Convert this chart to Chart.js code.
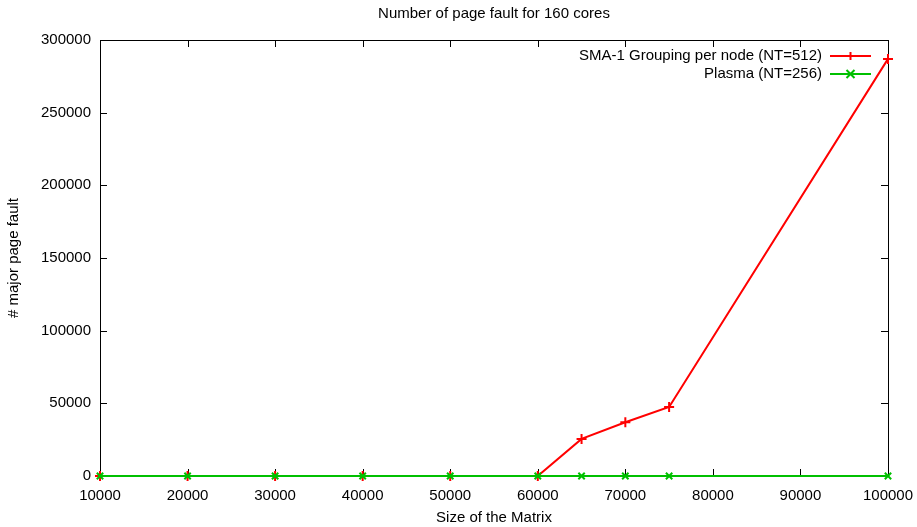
<!DOCTYPE html>
<html>
<head>
<meta charset="utf-8">
<script src="https://cdn.jsdelivr.net/npm/chart.js@4/dist/chart.umd.min.js"></script>
<style>
  body { margin: 0; background: #fff; }
  #wrap { width: 917px; height: 527px; }
</style>
</head>
<body>
<div id="wrap"><canvas id="faultChart"></canvas></div>
<script>
const matrixSizes = [10000, 20000, 30000, 40000, 50000, 60000, 65000, 70000, 75000, 100000];
const smaFaults = [0, 0, 0, 0, 0, 0, 25500, 37000, 47500, 287000];
const plasmaFaults = [0, 0, 0, 0, 0, 0, 0, 0, 0, 0];
const seriesNames = ['SMA-1 Grouping per node (NT=512)', 'Plasma (NT=256)'];
const seriesColors = ['#ff0000', '#00c000'];
const xTicks = [10000, 20000, 30000, 40000, 50000, 60000, 70000, 80000, 90000, 100000];
const yTicks = [0, 50000, 100000, 150000, 200000, 250000, 300000];
const chartTitle = 'Number of page fault for 160 cores';

const FONT = 'Liberation Sans, Arial, sans-serif';
const FS = 15;

// gnuplot style frame with inward mirrored ticks
const framePlugin = {
    id: 'frame',
    beforeDatasetsDraw(chart) {
        const ctx = chart.ctx;
        const a = chart.chartArea;
        const x = chart.scales.x, y = chart.scales.y;
        const len = 7;
        ctx.save();
        ctx.strokeStyle = '#000';
        ctx.lineWidth = 1;
        ctx.strokeRect(a.left + 0.5, a.top + 0.5, a.right - a.left, a.bottom - a.top);
        ctx.beginPath();
        xTicks.forEach(v => {
            const px = Math.round(x.getPixelForValue(v)) + 0.5;
            ctx.moveTo(px, a.bottom); ctx.lineTo(px, a.bottom - len);
            ctx.moveTo(px, a.top); ctx.lineTo(px, a.top + len);
        });
        yTicks.forEach(v => {
            const py = Math.round(y.getPixelForValue(v)) + 0.5;
            ctx.moveTo(a.left, py); ctx.lineTo(a.left + len, py);
            ctx.moveTo(a.right, py); ctx.lineTo(a.right - len, py);
        });
        ctx.stroke();
        ctx.restore();
    },
    afterDraw(chart) {
        const ctx = chart.ctx;
        const a = chart.chartArea;
        ctx.save();
        ctx.font = FS + 'px ' + FONT;
        ctx.fillStyle = '#000';
        ctx.textAlign = 'center';
        ctx.textBaseline = 'middle';
        ctx.fillText(chartTitle, (a.left + a.right) / 2, 14);

        // legend: right-aligned text followed by a line sample
        ctx.textAlign = 'right';
        seriesNames.forEach((name, i) => {
            const ly = 56 + i * 18;
            ctx.fillStyle = '#000';
            ctx.fillText(name, 822, ly);
            ctx.strokeStyle = seriesColors[i];
            ctx.lineWidth = 2;
            ctx.beginPath();
            ctx.moveTo(830, ly); ctx.lineTo(871, ly);
            ctx.stroke();
            const mx = 850.5, r = 4;
            ctx.beginPath();
            if (i === 0) {
                ctx.moveTo(mx - r, ly); ctx.lineTo(mx + r, ly);
                ctx.moveTo(mx, ly - r); ctx.lineTo(mx, ly + r);
            } else {
                ctx.moveTo(mx - r, ly - r); ctx.lineTo(mx + r, ly + r);
                ctx.moveTo(mx - r, ly + r); ctx.lineTo(mx + r, ly - r);
            }
            ctx.stroke();
        });
        ctx.restore();
    }
};

new Chart(document.getElementById('faultChart'), {
    type: 'line',
    data: {
        datasets: [{
            label: seriesNames[0],
            data: matrixSizes.map((s, i) => ({ x: s, y: smaFaults[i] })),
            borderColor: seriesColors[0],
            backgroundColor: seriesColors[0],
            borderWidth: 2,
            pointStyle: 'cross',
            pointRadius: 5,
            pointBorderWidth: 2,
            tension: 0,
            clip: false,
            order: 2
        }, {
            label: seriesNames[1],
            data: matrixSizes.map((s, i) => ({ x: s, y: plasmaFaults[i] })),
            borderColor: seriesColors[1],
            backgroundColor: seriesColors[1],
            borderWidth: 2,
            pointStyle: 'crossRot',
            pointRadius: 4.5,
            pointBorderWidth: 2,
            tension: 0,
            clip: false,
            order: 1
        }]
    },
    options: {
        responsive: true,
        maintainAspectRatio: false,
        animation: false,
        layout: { padding: { left: 0, right: 29, top: 40, bottom: 0 } },
        plugins: {
            legend: { display: false },
            tooltip: { enabled: false },
            title: { display: false }
        },
        scales: {
            x: {
                type: 'linear',
                min: 10000,
                max: 100000,
                afterBuildTicks: s => { s.ticks = xTicks.map(v => ({ value: v })); },
                afterFit: s => { s.height = 51; },
                grid: { display: false },
                border: { display: false },
                ticks: {
                    color: '#000', padding: 3, maxRotation: 0,
                    font: { family: FONT, size: FS },
                    callback: v => String(v)
                },
                title: {
                    display: true,
                    text: 'Size of the Matrix',
                    color: '#000',
                    font: { family: FONT, size: FS },
                    padding: { top: 0, bottom: 0 }
                }
            },
            y: {
                min: 0,
                max: 300000,
                afterBuildTicks: s => { s.ticks = yTicks.map(v => ({ value: v })); },
                afterFit: s => { s.width = 100; },
                grid: { display: false },
                border: { display: false },
                ticks: {
                    color: '#000', padding: 1,
                    font: { family: FONT, size: FS },
                    callback: v => String(v)
                },
                title: {
                    display: true,
                    text: '# major page fault',
                    color: '#000',
                    font: { family: FONT, size: FS },
                    padding: { top: 5, bottom: 0 }
                }
            }
        }
    },
    plugins: [framePlugin]
});
</script>
</body>
</html>
